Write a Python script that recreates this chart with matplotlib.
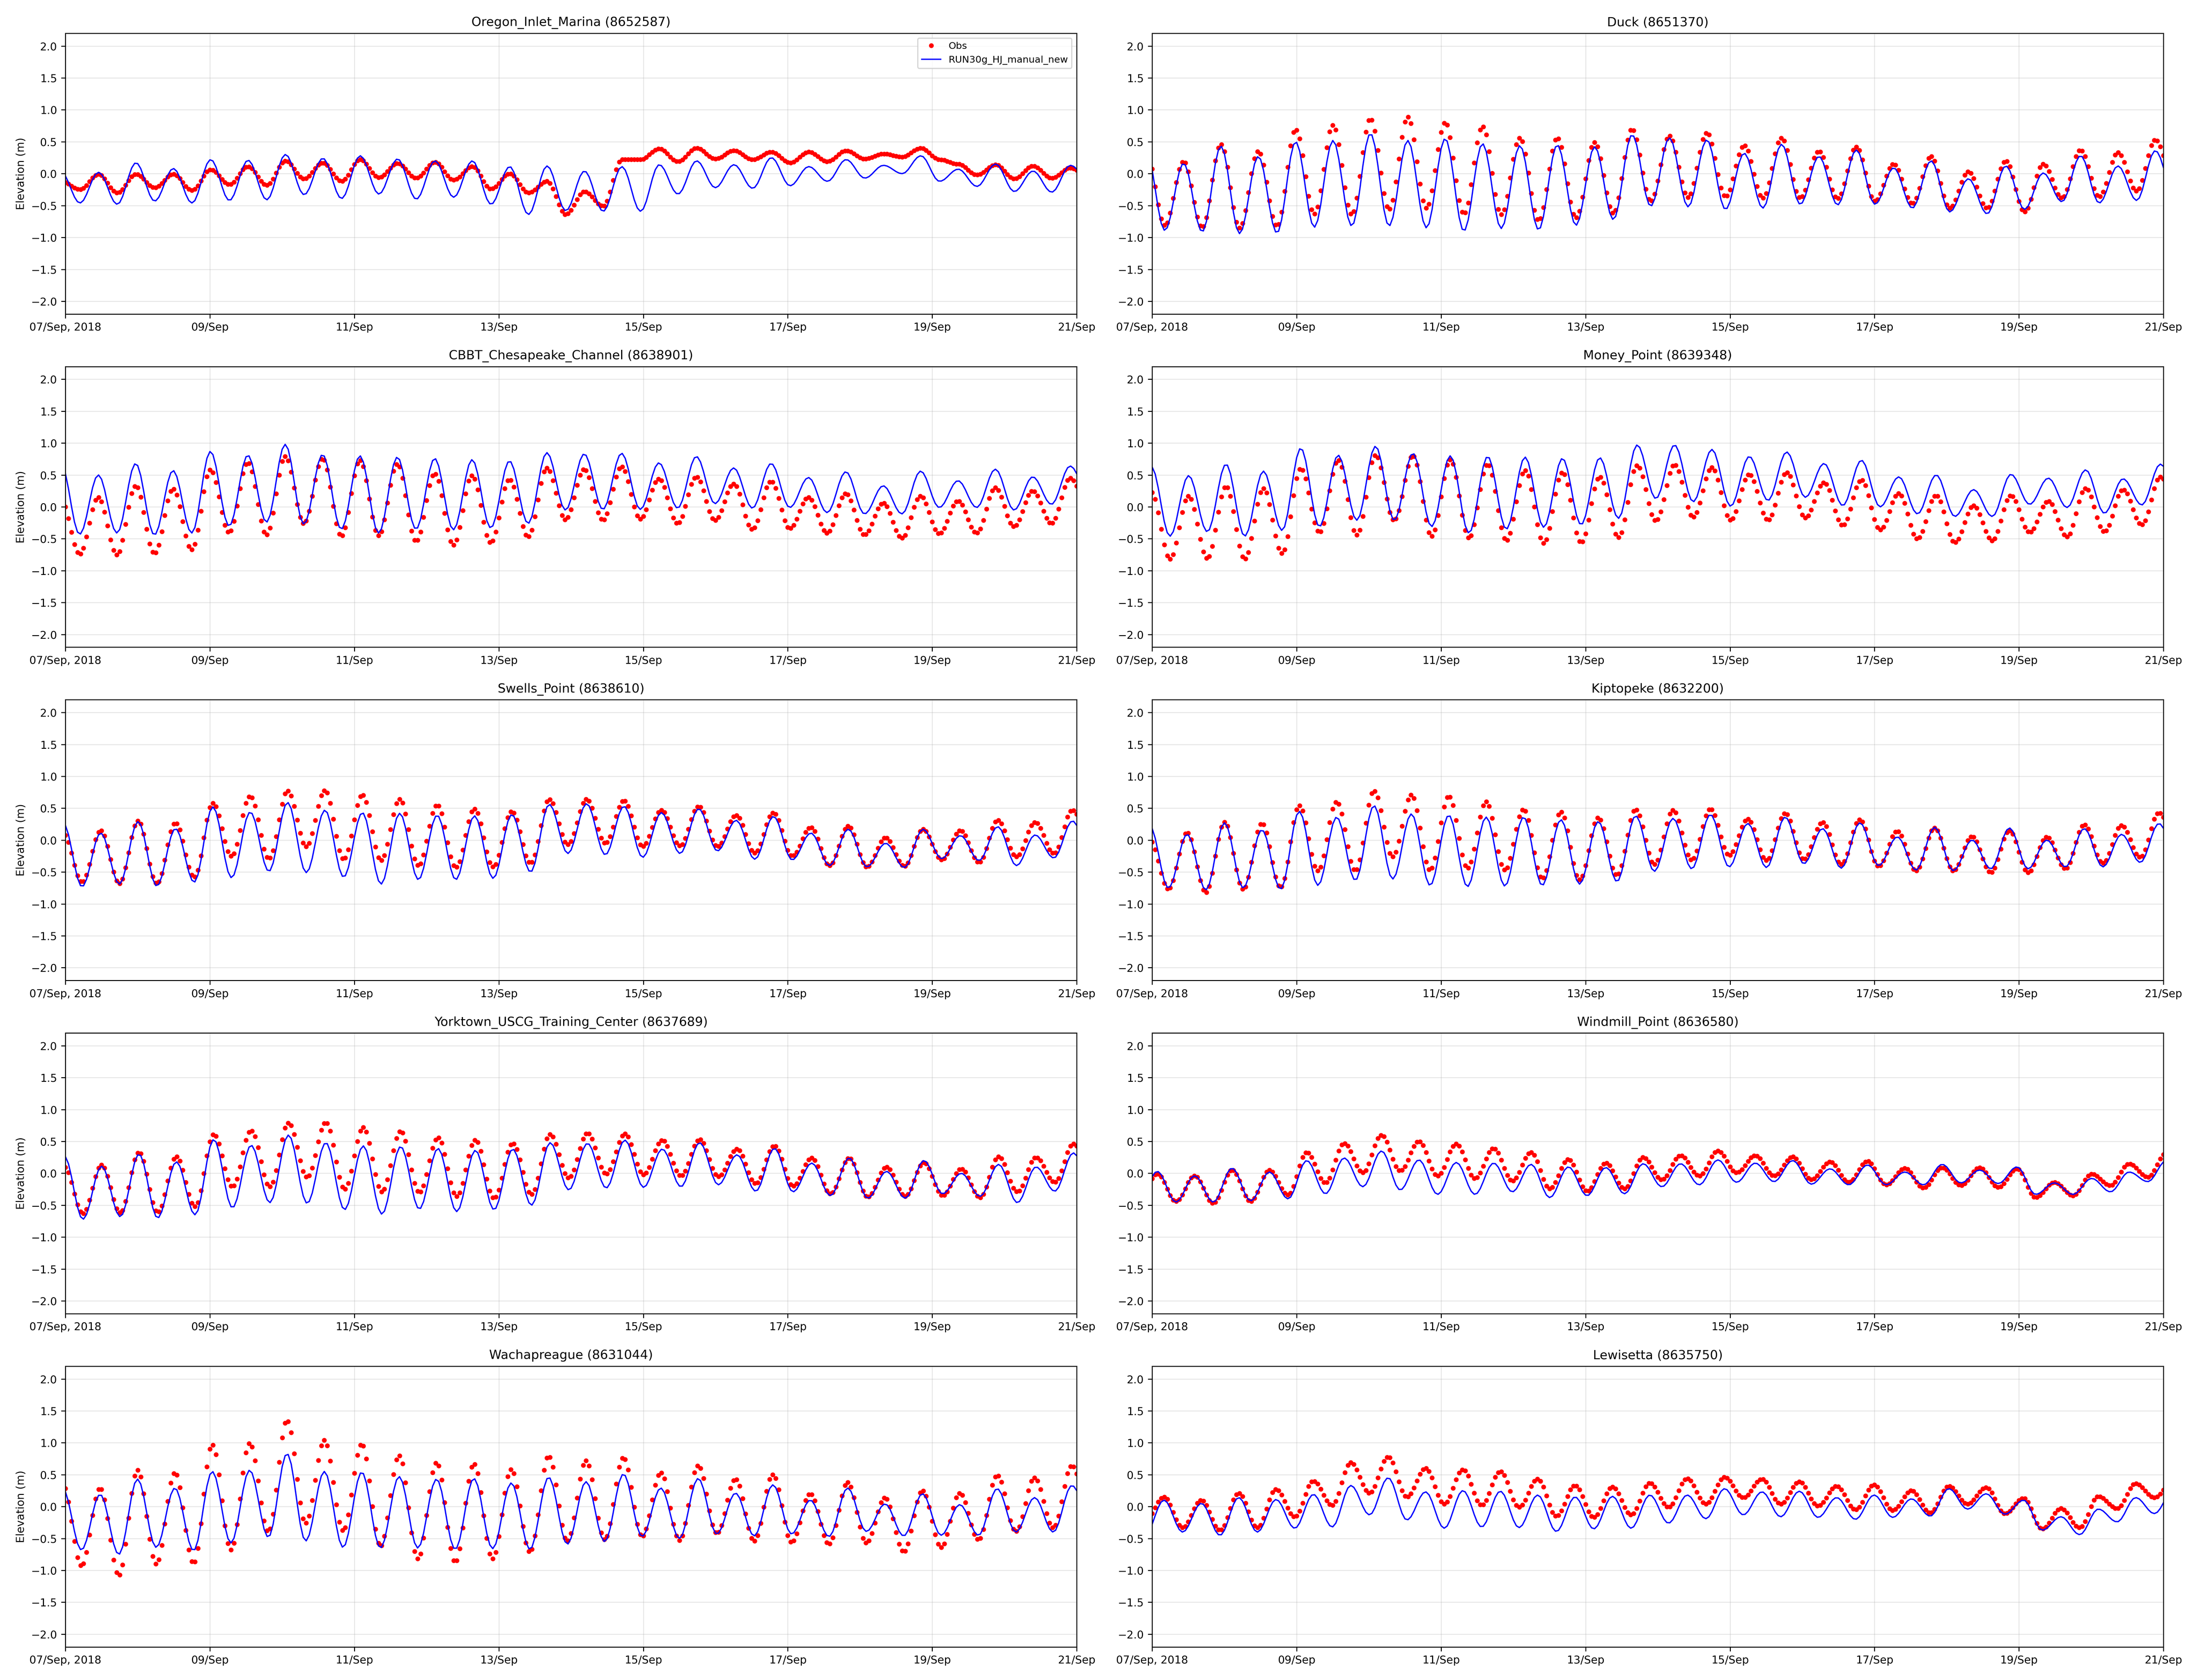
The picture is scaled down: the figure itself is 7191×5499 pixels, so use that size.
"""Obs vs model water level comparison at 10 NOAA stations (07-21 Sep 2018)."""

import datetime as dt

import matplotlib

matplotlib.use("Agg")
import matplotlib.dates as mdates
import matplotlib.pyplot as plt
import numpy as np

# ---------------------------------------------------------------------------
# data: high/low water values (metres).
# first and last value of each list sit just outside the plotted window.
# ---------------------------------------------------------------------------
START = dt.datetime(2018, 9, 7)
END = dt.datetime(2018, 9, 21)
HALF_PERIOD_H = 6.21  # M2 half period, hours between a high and a low

stations = [
    "Oregon_Inlet_Marina (8652587)",
    "Duck (8651370)",
    "CBBT_Chesapeake_Channel (8638901)",
    "Money_Point (8639348)",
    "Swells_Point (8638610)",
    "Kiptopeke (8632200)",
    "Yorktown_USCG_Training_Center (8637689)",
    "Windmill_Point (8636580)",
    "Wachapreague (8631044)",
    "Lewisetta (8635750)",
]

# hour (after 07/Sep 00:00) of the first extreme inside the window
first_extreme_h = [4.8, 4.2, 4.7, 5.9, 5.5, 5.4, 5.8, 7.9, 5.3, 3.9]

obs_oregon = [
    -0.12,
    -0.25, -0.01, -0.30, -0.01, -0.22, -0.01, -0.26, 0.06, -0.17, 0.11,
    -0.18, 0.20, -0.08, 0.17, -0.12, 0.22, -0.06, 0.16, -0.07, 0.18,
    -0.10, 0.11, -0.24, 0.00, -0.30, -0.12, -0.64, -0.28, -0.51, 0.22,
    0.22, 0.39, 0.19, 0.40, 0.23, 0.36, 0.22, 0.34, 0.17, 0.34,
    0.19, 0.36, 0.23, 0.31, 0.26, 0.40, 0.22, 0.15, -0.02, 0.14,
    -0.08, 0.12, -0.07, 0.09,
    -0.05,
]
mod_oregon = [
    0.02,
    -0.46, 0.02, -0.48, 0.17, -0.43, 0.08, -0.46, 0.22, -0.42, 0.21,
    -0.41, 0.30, -0.33, 0.24, -0.39, 0.28, -0.32, 0.23, -0.40, 0.20,
    -0.37, 0.20, -0.48, 0.11, -0.64, 0.12, -0.58, 0.04, -0.59, 0.11,
    -0.59, 0.14, -0.32, 0.20, -0.22, 0.14, -0.23, 0.25, -0.19, 0.11,
    -0.12, 0.22, -0.07, 0.13, 0.00, 0.28, -0.12, 0.07, -0.20, 0.15,
    -0.28, 0.04, -0.29, 0.13,
    -0.10,
]

obs_duck = [
    0.35,
    -0.81, 0.19, -0.84, 0.46, -0.85, 0.35, -0.82, 0.69, -0.63, 0.76,
    -0.64, 0.86, -0.56, 0.89, -0.54, 0.80, -0.63, 0.74, -0.64, 0.56,
    -0.73, 0.56, -0.69, 0.49, -0.62, 0.70, -0.43, 0.59, -0.37, 0.64,
    -0.36, 0.44, -0.38, 0.56, -0.38, 0.35, -0.39, 0.42, -0.43, 0.15,
    -0.47, 0.27, -0.54, 0.03, -0.54, 0.20, -0.60, 0.15, -0.38, 0.37,
    -0.36, 0.33, -0.27, 0.53,
    -0.10,
]
mod_duck = [
    0.35,
    -0.89, 0.16, -0.91, 0.43, -0.94, 0.27, -0.93, 0.50, -0.84, 0.52,
    -0.82, 0.63, -0.82, 0.52, -0.85, 0.55, -0.90, 0.47, -0.86, 0.44,
    -0.88, 0.45, -0.81, 0.42, -0.72, 0.61, -0.51, 0.56, -0.52, 0.53,
    -0.56, 0.32, -0.54, 0.46, -0.48, 0.27, -0.49, 0.37, -0.48, 0.09,
    -0.54, 0.20, -0.60, -0.08, -0.63, 0.12, -0.56, 0.01, -0.44, 0.28,
    -0.46, 0.12, -0.42, 0.36,
    -0.31,
]

obs_cbbt = [
    0.12,
    -0.74, 0.15, -0.75, 0.33, -0.73, 0.28, -0.67, 0.58, -0.40, 0.69,
    -0.44, 0.79, -0.26, 0.76, -0.46, 0.73, -0.45, 0.67, -0.54, 0.52,
    -0.60, 0.49, -0.56, 0.43, -0.47, 0.61, -0.20, 0.59, -0.21, 0.63,
    -0.19, 0.44, -0.26, 0.47, -0.21, 0.36, -0.35, 0.40, -0.34, 0.15,
    -0.41, 0.21, -0.44, 0.06, -0.49, 0.17, -0.42, 0.09, -0.41, 0.30,
    -0.31, 0.25, -0.26, 0.45,
    0.00,
]
mod_cbbt = [
    0.67,
    -0.43, 0.50, -0.41, 0.68, -0.44, 0.57, -0.41, 0.87, -0.30, 0.81,
    -0.24, 0.98, -0.27, 0.82, -0.35, 0.80, -0.41, 0.78, -0.35, 0.76,
    -0.36, 0.74, -0.33, 0.72, -0.26, 0.85, -0.05, 0.83, -0.04, 0.84,
    -0.04, 0.69, -0.02, 0.79, 0.05, 0.61, -0.02, 0.68, -0.01, 0.46,
    -0.09, 0.55, -0.11, 0.33, -0.11, 0.56, -0.01, 0.41, -0.01, 0.59,
    -0.05, 0.47, 0.04, 0.64,
    0.20,
]

obs_money = [
    0.23,
    -0.82, 0.17, -0.81, 0.32, -0.82, 0.29, -0.73, 0.60, -0.40, 0.73,
    -0.44, 0.81, -0.21, 0.80, -0.46, 0.74, -0.49, 0.67, -0.53, 0.57,
    -0.57, 0.54, -0.56, 0.47, -0.48, 0.65, -0.22, 0.66, -0.16, 0.62,
    -0.21, 0.51, -0.21, 0.54, -0.17, 0.38, -0.29, 0.42, -0.36, 0.21,
    -0.50, 0.18, -0.56, 0.02, -0.53, 0.18, -0.40, 0.09, -0.47, 0.29,
    -0.39, 0.27, -0.28, 0.47,
    -0.10,
]
mod_money = [
    0.63,
    -0.46, 0.49, -0.39, 0.67, -0.46, 0.56, -0.37, 0.92, -0.31, 0.81,
    -0.21, 0.95, -0.21, 0.84, -0.31, 0.80, -0.41, 0.79, -0.35, 0.78,
    -0.32, 0.76, -0.28, 0.77, -0.18, 0.97, 0.13, 0.97, 0.08, 0.90,
    0.01, 0.79, 0.10, 0.86, 0.15, 0.68, 0.02, 0.73, 0.00, 0.47,
    -0.11, 0.50, -0.15, 0.27, -0.15, 0.51, 0.04, 0.45, -0.01, 0.58,
    -0.10, 0.44, 0.03, 0.67,
    0.10,
]

obs_swells = [
    0.10,
    -0.66, 0.15, -0.68, 0.30, -0.68, 0.27, -0.58, 0.58, -0.25, 0.69,
    -0.29, 0.77, -0.10, 0.78, -0.30, 0.71, -0.32, 0.64, -0.40, 0.55,
    -0.43, 0.49, -0.42, 0.45, -0.36, 0.64, -0.07, 0.64, -0.05, 0.62,
    -0.10, 0.47, -0.09, 0.53, -0.10, 0.39, -0.20, 0.43, -0.25, 0.20,
    -0.40, 0.22, -0.42, 0.04, -0.41, 0.17, -0.31, 0.15, -0.35, 0.31,
    -0.26, 0.28, -0.21, 0.47,
    -0.10,
]
mod_swells = [
    0.26,
    -0.73, 0.11, -0.69, 0.29, -0.72, 0.18, -0.66, 0.52, -0.59, 0.44,
    -0.49, 0.59, -0.51, 0.47, -0.58, 0.43, -0.69, 0.42, -0.62, 0.39,
    -0.62, 0.38, -0.60, 0.40, -0.50, 0.56, -0.21, 0.57, -0.23, 0.53,
    -0.27, 0.43, -0.21, 0.49, -0.17, 0.31, -0.30, 0.37, -0.31, 0.11,
    -0.40, 0.17, -0.42, -0.05, -0.43, 0.17, -0.29, 0.07, -0.32, 0.21,
    -0.40, 0.08, -0.28, 0.30,
    -0.30,
]

obs_kiptopeke = [
    0.00,
    -0.77, 0.12, -0.82, 0.28, -0.77, 0.26, -0.74, 0.54, -0.48, 0.60,
    -0.48, 0.77, -0.26, 0.71, -0.47, 0.69, -0.44, 0.60, -0.47, 0.48,
    -0.60, 0.44, -0.62, 0.35, -0.55, 0.48, -0.38, 0.47, -0.31, 0.49,
    -0.24, 0.33, -0.32, 0.42, -0.30, 0.28, -0.38, 0.32, -0.41, 0.14,
    -0.48, 0.19, -0.48, 0.06, -0.51, 0.15, -0.51, 0.05, -0.45, 0.24,
    -0.36, 0.23, -0.27, 0.43,
    -0.10,
]
mod_kiptopeke = [
    0.22,
    -0.75, 0.09, -0.78, 0.27, -0.75, 0.16, -0.77, 0.45, -0.71, 0.36,
    -0.63, 0.54, -0.61, 0.41, -0.71, 0.39, -0.73, 0.36, -0.72, 0.36,
    -0.71, 0.32, -0.69, 0.29, -0.65, 0.38, -0.49, 0.34, -0.45, 0.40,
    -0.42, 0.26, -0.43, 0.36, -0.37, 0.18, -0.44, 0.27, -0.40, 0.05,
    -0.47, 0.20, -0.48, 0.00, -0.45, 0.19, -0.45, 0.00, -0.42, 0.18,
    -0.42, 0.09, -0.35, 0.26,
    -0.30,
]

obs_yorktown = [
    0.10,
    -0.63, 0.13, -0.62, 0.33, -0.61, 0.26, -0.52, 0.61, -0.21, 0.67,
    -0.21, 0.79, -0.06, 0.80, -0.25, 0.72, -0.29, 0.66, -0.30, 0.56,
    -0.36, 0.52, -0.39, 0.47, -0.33, 0.61, -0.07, 0.63, -0.01, 0.62,
    -0.02, 0.52, -0.04, 0.53, -0.05, 0.38, -0.16, 0.43, -0.20, 0.24,
    -0.32, 0.24, -0.37, 0.10, -0.36, 0.17, -0.35, 0.07, -0.38, 0.26,
    -0.29, 0.25, -0.14, 0.46,
    0.00,
]
mod_yorktown = [
    0.27,
    -0.72, 0.11, -0.68, 0.30, -0.70, 0.18, -0.65, 0.53, -0.54, 0.44,
    -0.46, 0.60, -0.47, 0.48, -0.57, 0.43, -0.64, 0.42, -0.56, 0.39,
    -0.60, 0.36, -0.57, 0.38, -0.50, 0.48, -0.26, 0.47, -0.23, 0.52,
    -0.22, 0.38, -0.21, 0.48, -0.18, 0.29, -0.28, 0.39, -0.29, 0.16,
    -0.35, 0.24, -0.39, 0.03, -0.39, 0.20, -0.32, 0.00, -0.36, 0.14,
    -0.46, 0.10, -0.28, 0.32,
    -0.30,
]

obs_windmill = [
    -0.01,
    -0.44, -0.04, -0.47, 0.05, -0.44, 0.05, -0.34, 0.33, -0.15, 0.47,
    0.01, 0.60, 0.04, 0.50, -0.04, 0.46, -0.08, 0.39, -0.12, 0.33,
    -0.24, 0.22, -0.28, 0.16, -0.24, 0.25, -0.10, 0.28, -0.04, 0.35,
    0.01, 0.28, -0.04, 0.26, -0.10, 0.18, -0.14, 0.19, -0.18, 0.08,
    -0.23, 0.09, -0.19, 0.09, -0.22, 0.07, -0.38, -0.14, -0.35, -0.01,
    -0.19, 0.15, -0.06,
    0.32,
]
mod_windmill = [
    0.03,
    -0.45, -0.04, -0.45, 0.08, -0.43, 0.02, -0.40, 0.20, -0.32, 0.24,
    -0.21, 0.35, -0.26, 0.21, -0.33, 0.17, -0.33, 0.16, -0.29, 0.14,
    -0.38, 0.10, -0.35, 0.09, -0.32, 0.15, -0.21, 0.15, -0.18, 0.21,
    -0.14, 0.16, -0.13, 0.20, -0.17, 0.07, -0.18, 0.13, -0.18, 0.02,
    -0.18, 0.14, -0.15, 0.05, -0.16, 0.10, -0.33, -0.15, -0.33, -0.08,
    -0.29, 0.02, -0.13,
    0.20,
]

obs_wachapreague = [
    0.35,
    -0.93, 0.29, -1.08, 0.57, -0.90, 0.53, -0.89, 0.97, -0.68, 0.99,
    -0.39, 1.35, -0.26, 1.04, -0.38, 0.98, -0.62, 0.80, -0.82, 0.69,
    -0.87, 0.67, -0.82, 0.58, -0.71, 0.79, -0.54, 0.72, -0.52, 0.77,
    -0.47, 0.53, -0.53, 0.64, -0.42, 0.43, -0.54, 0.50, -0.56, 0.20,
    -0.59, 0.38, -0.57, 0.14, -0.71, 0.25, -0.64, 0.21, -0.52, 0.49,
    -0.39, 0.45, -0.33, 0.64,
    -0.20,
]
mod_wachapreague = [
    0.28,
    -0.68, 0.19, -0.75, 0.43, -0.64, 0.29, -0.69, 0.55, -0.57, 0.57,
    -0.48, 0.83, -0.54, 0.55, -0.64, 0.54, -0.65, 0.47, -0.65, 0.43,
    -0.67, 0.44, -0.66, 0.37, -0.67, 0.46, -0.59, 0.39, -0.55, 0.51,
    -0.47, 0.29, -0.50, 0.44, -0.43, 0.21, -0.46, 0.34, -0.43, 0.10,
    -0.47, 0.29, -0.39, 0.04, -0.46, 0.20, -0.45, 0.03, -0.45, 0.28,
    -0.40, 0.14, -0.40, 0.33,
    -0.20,
]

obs_lewisetta = [
    -0.22,
    0.15, -0.33, 0.10, -0.37, 0.21, -0.33, 0.27, -0.16, 0.40, 0.02,
    0.69, 0.21, 0.78, 0.15, 0.60, 0.04, 0.58, 0.02, 0.55, -0.01,
    0.43, -0.15, 0.33, -0.17, 0.31, -0.13, 0.37, -0.01, 0.44, 0.04,
    0.46, 0.14, 0.43, 0.04, 0.39, 0.01, 0.32, -0.05, 0.34, -0.06,
    0.25, -0.10, 0.32, 0.04, 0.30, -0.11, 0.13, -0.35, -0.03, -0.33,
    0.16, -0.03, 0.36, 0.14,
    0.40,
]
mod_lewisetta = [
    -0.44,
    0.10, -0.40, 0.05, -0.45, 0.14, -0.40, 0.11, -0.34, 0.19, -0.32,
    0.33, -0.13, 0.45, -0.21, 0.23, -0.34, 0.25, -0.32, 0.24, -0.33,
    0.18, -0.39, 0.15, -0.35, 0.16, -0.34, 0.18, -0.26, 0.18, -0.19,
    0.28, -0.13, 0.23, -0.16, 0.24, -0.17, 0.14, -0.20, 0.18, -0.17,
    0.12, -0.15, 0.28, -0.04, 0.20, -0.12, 0.10, -0.37, -0.16, -0.44,
    -0.04, -0.24, 0.14, -0.11,
    0.25,
]

obs_extremes = [
    obs_oregon, obs_duck, obs_cbbt, obs_money, obs_swells,
    obs_kiptopeke, obs_yorktown, obs_windmill, obs_wachapreague, obs_lewisetta,
]
mod_extremes = [
    mod_oregon, mod_duck, mod_cbbt, mod_money, mod_swells,
    mod_kiptopeke, mod_yorktown, mod_windmill, mod_wachapreague, mod_lewisetta,
]

# obs and model both come out hourly
obs_step_h = 1.0
model_step_h = 1.0

x_tick_days = [7, 9, 11, 13, 15, 17, 19, 21]


def _tide_curve(t_first: float, extremes, hours: np.ndarray) -> np.ndarray:
    """Join successive high/low values with half-cosine segments."""
    ext = np.asarray(extremes, dtype=float)
    t_ext = t_first + HALF_PERIOD_H * (np.arange(len(ext)) - 1)
    idx = np.clip(np.searchsorted(t_ext, hours, side="right") - 1, 0, len(ext) - 2)
    frac = (hours - t_ext[idx]) / HALF_PERIOD_H
    w = (1 + np.cos(np.pi * frac)) / 2
    return ext[idx + 1] + (ext[idx] - ext[idx + 1]) * w


def _hours_to_num(hours: np.ndarray) -> np.ndarray:
    return mdates.date2num(START) + hours / 24.0


def _date_label(x, pos=None):
    d = mdates.num2date(x)
    if d.day == START.day and d.month == START.month:
        return d.strftime("%d/%b, %Y")
    return d.strftime("%d/%b")


def main():
    total_h = (END - START).total_seconds() / 3600.0

    # 300 dpi would give 7650x5850, which the viewer refuses; 282 keeps the
    # same proportions just under its pixel limit
    fig, axes = plt.subplots(5, 2, figsize=(25.5, 19.5), dpi=282)
    fig.subplots_adjust(left=0.0298, right=0.9847, top=0.9802, bottom=0.0197,
                        wspace=0.0747, hspace=0.187)

    t_obs = np.arange(0, total_h + 1e-6, obs_step_h)
    t_mod = np.arange(0, total_h + 1e-6, model_step_h)

    for i, ax in enumerate(axes.flat):
        obs = _tide_curve(first_extreme_h[i], obs_extremes[i], t_obs)
        mod = _tide_curve(first_extreme_h[i], mod_extremes[i], t_mod)

        ax.plot(_hours_to_num(t_obs), obs, "r.", label="Obs")
        ax.plot(_hours_to_num(t_mod), mod, "b-", lw=1.1, label="RUN30g_HJ_manual_new")

        ax.set_title(stations[i], fontsize=10.5)
        ax.set_xlim(mdates.date2num(START), mdates.date2num(END))
        ax.set_ylim(-2.2, 2.2)
        ax.set_yticks(np.arange(-2.0, 2.01, 0.5))
        ax.set_xticks([mdates.date2num(dt.datetime(2018, 9, d)) for d in x_tick_days])
        ax.xaxis.set_major_formatter(plt.FuncFormatter(_date_label))
        ax.tick_params(labelsize=9)
        ax.grid(True, alpha=0.3)
        if i % 2 == 0:
            ax.set_ylabel("Elevation (m)", fontsize=9)
        if i == 0:
            ax.legend(loc="upper right", fontsize=8)

    fig.savefig("out.png", dpi=282)
    plt.close(fig)


if __name__ == "__main__":
    main()
